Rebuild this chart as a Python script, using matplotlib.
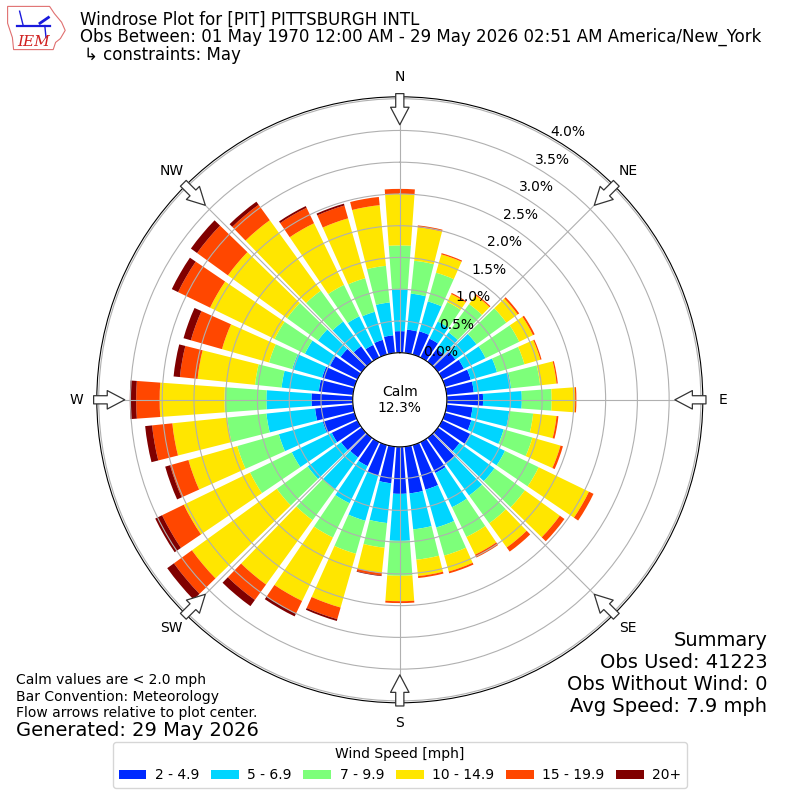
import numpy as np
import matplotlib
matplotlib.use("Agg")
import matplotlib.pyplot as plt
from matplotlib.patches import Polygon

# ---------------- data ----------------
directions = np.arange(0, 360, 10)  # degrees, meteorological
bin_labels = ["2 - 4.9", "5 - 6.9", "7 - 9.9", "10 - 14.9", "15 - 19.9", "20+"]

spd_2_5 = [0.34, 0.37, 0.38, 0.33, 0.25, 0.34, 0.38, 0.42, 0.43, 0.57,
           0.41, 0.43, 0.49, 0.42, 0.49, 0.54, 0.73, 0.74, 0.74, 0.58,
           0.50, 0.42, 0.38, 0.40, 0.45, 0.52, 0.60, 0.65, 0.54, 0.53,
           0.48, 0.41, 0.30, 0.22, 0.24, 0.28]
spd_5_7 = [0.66, 0.57, 0.49, 0.30, 0.32, 0.41, 0.38, 0.43, 0.59, 0.61,
           0.58, 0.53, 0.61, 0.68, 0.63, 0.60, 0.62, 0.57, 0.74, 0.63,
           0.74, 0.65, 0.62, 0.65, 0.70, 0.72, 0.77, 0.71, 0.59, 0.49,
           0.44, 0.44, 0.48, 0.50, 0.46, 0.52]
spd_7_10 = [0.69, 0.52, 0.47, 0.34, 0.55, 0.58, 0.59, 0.45, 0.46, 0.47,
            0.38, 0.47, 0.59, 0.59, 0.54, 0.52, 0.46, 0.48, 0.55, 0.39,
            0.54, 0.60, 0.60, 0.60, 0.73, 0.68, 0.62, 0.66, 0.42, 0.38,
            0.53, 0.60, 0.60, 0.55, 0.55, 0.58]
spd_10_15 = [0.81, 0.53, 0.30, 0.14, 0.17, 0.22, 0.24, 0.26, 0.26, 0.37,
             0.37, 0.46, 0.88, 0.68, 0.47, 0.31, 0.26, 0.26, 0.40, 0.40,
             0.88, 1.11, 1.25, 1.65, 1.16, 0.80, 0.87, 1.02, 0.91, 0.77,
             1.13, 1.15, 1.37, 1.08, 0.98, 0.96]
spd_15_20 = [0.08, 0.03, 0.02, 0.02, 0.02, 0.03, 0.03, 0.02, 0.02, 0.02,
             0.03, 0.04, 0.08, 0.09, 0.08, 0.05, 0.03, 0.03, 0.03, 0.04,
             0.19, 0.22, 0.30, 0.35, 0.38, 0.30, 0.32, 0.37, 0.28, 0.51,
             0.56, 0.60, 0.30, 0.27, 0.21, 0.13]
spd_20p = [0.00, 0.00, 0.00, 0.00, 0.00, 0.00, 0.00, 0.00, 0.00, 0.00,
           0.00, 0.00, 0.00, 0.00, 0.00, 0.00, 0.00, 0.00, 0.00, 0.01,
           0.03, 0.05, 0.12, 0.13, 0.12, 0.08, 0.11, 0.10, 0.10, 0.12,
           0.11, 0.12, 0.06, 0.03, 0.03, 0.00]
series = [spd_2_5, spd_5_7, spd_7_10, spd_10_15, spd_15_20, spd_20p]

calm_pct = 12.3
rticks = [0.0, 0.5, 1.0, 1.5, 2.0, 2.5, 3.0, 3.5, 4.0]
compass = ["N", "NE", "E", "SE", "S", "SW", "W", "NW"]
compass_deg = [0, 45, 90, 135, 180, 225, 270, 315]

# ---------------- figure ----------------
fig = plt.figure(figsize=(8, 8), dpi=100)
ax = fig.add_axes([0.121, 0.1215, 0.7575, 0.7575], projection="polar")
ax.set_theta_zero_location("N")
ax.set_theta_direction(-1)

colors = plt.cm.jet(np.linspace(0, 1, 7))[1:]
theta = np.deg2rad(directions)
width = np.deg2rad(8.2)
bottom = np.zeros(len(directions))
handles = []
for vals, col, lab in zip(series, colors, bin_labels):
    vals = np.asarray(vals)
    h = ax.bar(theta, vals, width=width, bottom=bottom, color=col,
               edgecolor="none", label=lab, zorder=1)
    handles.append(h)
    bottom = bottom + vals

ax.set_rorigin(-0.741)
ax.set_rlim(0, 4.03)
ax.set_rticks(rticks)
ax.set_yticklabels([f"{t:.1f}%" for t in rticks], fontsize=10)
ax.set_rlabel_position(30)
ax.set_thetagrids(compass_deg, labels=compass, fontsize=10)
ax.tick_params(axis="x", pad=4)
ax.grid(True, color="#b0b0b0", lw=0.8)

# flow arrows at compass points
for d in compass_deg:
    ax.annotate("", xy=(np.deg2rad(d), 3.59), xytext=(np.deg2rad(d), 4.08),
                xycoords="data", textcoords="data",
                arrowprops=dict(arrowstyle="simple,head_length=0.9,head_width=0.95,tail_width=0.42",
                                mutation_scale=14, fc="white", ec="#333333",
                                lw=0.9, shrinkA=0, shrinkB=0),
                annotation_clip=False, zorder=5)

ax.text(0.5, 0.5, f"Calm\n{calm_pct:.1f}%", transform=ax.transAxes,
        ha="center", va="center", fontsize=10, zorder=6)

# ---------------- texts ----------------
fig.text(0.1, 0.975, "Windrose Plot for [PIT] PITTSBURGH INTL", fontsize=12, va="center")
fig.text(0.1, 0.954, "Obs Between: 01 May 1970 12:00 AM - 29 May 2026 02:51 AM America/New_York",
         fontsize=12, va="center")
fig.text(0.105, 0.931, "\u21b3 constraints: May", fontsize=12, va="center")

fig.text(0.02, 0.15, "Calm values are < 2.0 mph", fontsize=10, va="center")
fig.text(0.02, 0.129, "Bar Convention: Meteorology", fontsize=10, va="center")
fig.text(0.02, 0.109, "Flow arrows relative to plot center.", fontsize=10, va="center")
fig.text(0.02, 0.0875, "Generated: 29 May 2026", fontsize=14, va="center")

fig.text(0.959, 0.2, "Summary", fontsize=14, ha="right", va="center")
fig.text(0.959, 0.1725, "Obs Used: 41223", fontsize=14, ha="right", va="center")
fig.text(0.959, 0.145, "Obs Without Wind: 0", fontsize=14, ha="right", va="center")
fig.text(0.959, 0.1175, "Avg Speed: 7.9 mph", fontsize=14, ha="right", va="center")

fig.legend(handles=handles, labels=bin_labels, loc="center", ncol=6,
           bbox_to_anchor=(0.5, 0.044), title="Wind Speed [mph]",
           fontsize=10, title_fontsize=10, frameon=True, handlelength=2.0,
           handletextpad=0.6, columnspacing=0.85)

# ---------------- logo ----------------
lax = fig.add_axes([0.008, 0.935, 0.075, 0.06])
lax.set_xlim(0, 1)
lax.set_ylim(0, 1)
lax.axis("off")
outline = [(0.02, 0.95), (0.72, 0.95), (0.80, 0.80), (0.92, 0.62), (0.98, 0.45),
           (0.90, 0.28), (0.82, 0.20), (0.78, 0.05), (0.12, 0.05), (0.10, 0.30),
           (0.02, 0.60)]
lax.add_patch(Polygon(outline, closed=True, fc="white", ec="#e07070", lw=0.8))
lax.plot([0.18, 0.72], [0.55, 0.55], color="#1a1adc", lw=1.6)
lax.plot([0.28, 0.22], [0.55, 0.85], color="#1a1adc", lw=1.0)
lax.plot([0.56, 0.70], [0.60, 0.72], color="#1a1adc", lw=2.0)
lax.plot([0.64, 0.66], [0.55, 0.30], color="#1a1adc", lw=1.0)
lax.text(0.45, 0.2, "IEM", fontsize=11, color="#d02020", family="DejaVu Serif",
         style="italic", ha="center", va="center")

fig.savefig("out.png", dpi=100)
